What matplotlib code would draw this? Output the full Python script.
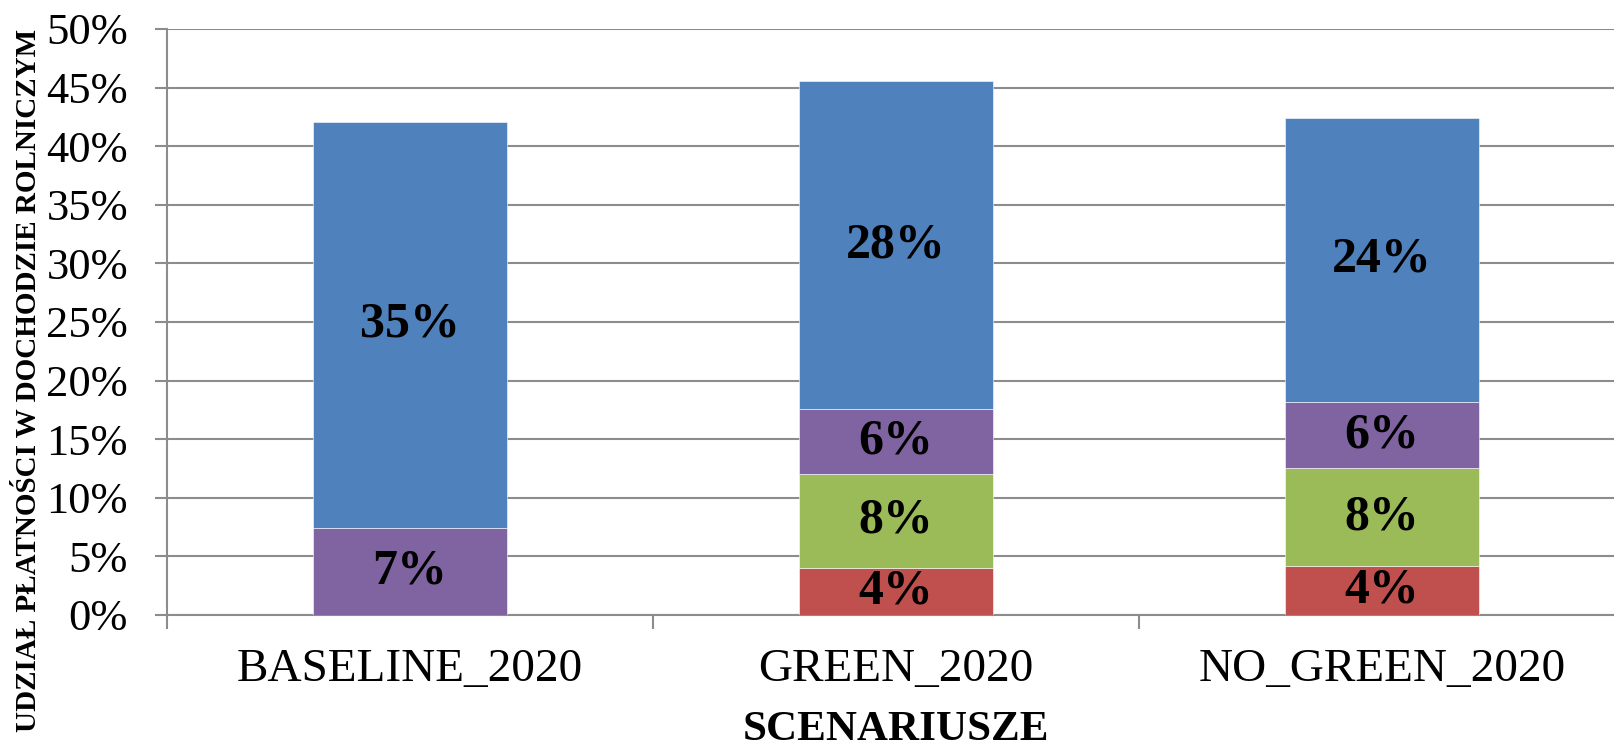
import numpy as np
import matplotlib.pyplot as plt

# share of payments in farm income, per scenario (%)
categories = ['BASELINE_2020', 'GREEN_2020', 'NO_GREEN_2020']
red = [0.0, 4.05, 4.2]
green = [0.0, 7.95, 8.3]
purple = [7.4, 5.55, 5.7]
blue = [34.7, 28.0, 24.2]

series = [red, green, purple, blue]
colors = ['#C0504D', '#9BBB59', '#8064A2', '#4F81BD']

plt.rcParams['font.family'] = ['Liberation Serif', 'DejaVu Serif']
grid_c = '#8c8c8c'

fig = plt.figure(figsize=(16.15, 7.49), dpi=100)
W, H = 1615, 749
ax = fig.add_axes([167 / W, 1 - 615 / H, 1458 / W, 586 / H])

x = np.arange(len(categories))
bottom = np.zeros(len(categories))
for vals, col in zip(series, colors):
    vals = np.array(vals)
    ax.bar(x, vals, 0.4, bottom=bottom, color=col, edgecolor='#ffffff',
           linewidth=0.4, zorder=3)
    for xi, b, v in zip(x, bottom, vals):
        if v > 0:
            ax.text(xi, b + v / 2, f'{v:.0f}%', ha='center', va='center',
                    fontsize=36, fontweight='bold', zorder=4)
    bottom += vals

ax.set_xlim(-0.5, 2.5)
ax.set_ylim(0, 50)
ax.set_yticks(np.arange(0, 51, 5))
ax.set_yticklabels([f'{v}%' for v in range(0, 51, 5)])
ax.yaxis.grid(True, color=grid_c, linewidth=1.5, zorder=0)
ax.set_axisbelow(True)

ax.set_xticks(x)
ax.set_xticklabels(categories)
ax.set_xticks([-0.5, 0.5, 1.5, 2.5], minor=True)
ax.tick_params(axis='x', which='major', length=0, pad=24, labelsize=34)
ax.tick_params(axis='x', which='minor', length=10, width=1.5, color=grid_c)
ax.tick_params(axis='y', length=8.6, width=1.5, color=grid_c, pad=19.5,
               labelsize=32)

for s in ['top', 'right']:
    ax.spines[s].set_visible(False)
for s in ['left', 'bottom']:
    ax.spines[s].set_color(grid_c)
    ax.spines[s].set_linewidth(1.5)

fig.text(896 / W, 9 / H, 'SCENARIUSZE', ha='center', va='baseline',
         fontsize=31, fontweight='bold')
fig.text(29 / W, 1 - 380 / H, 'UDZIAŁ PŁATNOŚCI W DOCHODZIE ROLNICZYM',
         rotation=90, ha='center', va='center', fontsize=21,
         fontweight='bold')

fig.savefig('out.png', dpi=100)
